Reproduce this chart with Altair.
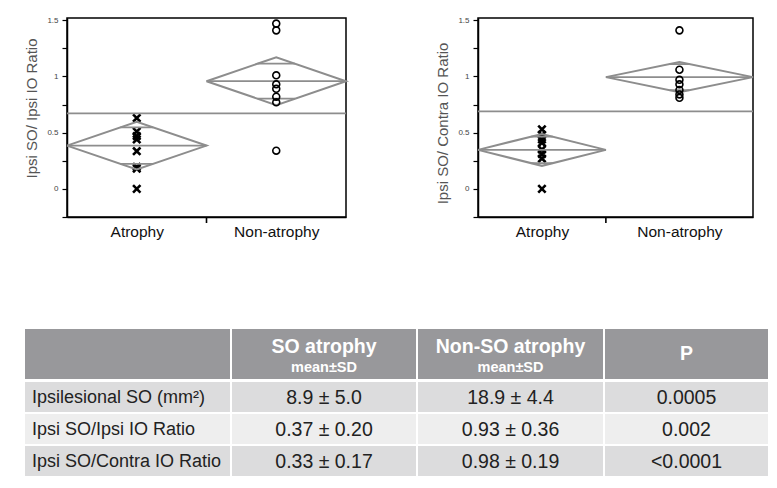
import altair as alt
import pandas as pd

FONT = "Liberation Sans"
CATS = ["Atrophy", "Non-atrophy"]

# ---------------- Left panel data (Ipsi SO / Ipsi IO Ratio) ----------------
L_ATROPHY = [0.63, 0.51, 0.47, 0.44, 0.335, 0.196, 0.18, 0.0]
L_NON = [1.47, 1.41, 1.01, 0.93, 0.89, 0.82, 0.77, 0.34]
L_WEIGHT = [0.5, 0.5]
L_MEAN = [0.385, 0.958]
L_CI = [0.212, 0.213]
L_OVERLAP = [0.162, 0.156]
L_GRAND = 0.671

# ---------------- Right panel data (Ipsi SO / Contra IO Ratio) -------------
R_ATROPHY = [0.53, 0.48, 0.44, 0.41, 0.35, 0.31, 0.27, 0.0]
R_NON = [1.41, 1.06, 0.97, 0.93, 0.88, 0.84, 0.81]
R_WEIGHT = [0.465, 0.535]
R_MEAN = [0.347, 0.994]
R_CI = [0.142, 0.134]
R_OVERLAP = [0.118, 0.116]
R_GRAND = 0.69

Y_TICKS = [-0.25, 0, 0.25, 0.5, 0.75, 1.0, 1.25, 1.5]
Y_DOMAIN = [-0.25, 1.52]

# ---------------- Table data ----------------
HEADER_MAIN = ["", "SO atrophy", "Non-SO atrophy", "P"]
HEADER_SUB = ["", "mean±SD", "mean±SD", ""]
ROW_LABELS = ["Ipsilesional SO (mm²)", "Ipsi SO/Ipsi IO Ratio", "Ipsi SO/Contra IO Ratio"]
SO_ATROPHY = ["8.9 ± 5.0", "0.37 ± 0.20", "0.33 ± 0.17"]
NON_SO_ATROPHY = ["18.9 ± 4.4", "0.93 ± 0.36", "0.98 ± 0.19"]
P_VALUES = ["0.0005", "0.002", "<0.0001"]

DIAMOND_GRAY = "#8d8d8d"


def panel(title, title_y, atrophy, non, weights, means, cis, overlaps, grand, width, height):
    starts = [0.0, weights[0]]
    ends = [weights[0], weights[0] + weights[1]]
    centers = [(s + e) / 2 for s, e in zip(starts, ends)]
    boundary = weights[0]
    total = ends[1]

    pts_a = pd.DataFrame({"x": centers[0], "y": atrophy})
    pts_n = pd.DataFrame({"x": centers[1], "y": non})

    drows = []
    srows = []
    for g in range(2):
        s, e, c, m, ci, ov = starts[g], ends[g], centers[g], means[g], cis[g], overlaps[g]
        verts = [(s, m), (c, m + ci), (e, m), (c, m - ci), (s, m)]
        for k, (vx, vy) in enumerate(verts):
            drows.append({"g": g, "o": k, "x": vx, "y": vy})
        srows.append({"x": s, "x2": e, "y": m})
        f = ov / ci
        half = (e - s) / 2
        for sign in (1, -1):
            srows.append({"x": s + half * f, "x2": e - half * f, "y": m + sign * ov})
    dia = pd.DataFrame(drows)
    segs = pd.DataFrame(srows)
    grand_df = pd.DataFrame({"x": [0.0], "x2": [total], "y": [grand]})
    tick_df = pd.DataFrame({"x": [boundary]})

    xscale = alt.Scale(domain=[0, total], nice=False, zero=False)
    yscale = alt.Scale(domain=Y_DOMAIN, nice=False, zero=False)

    xaxis = alt.Axis(
        values=centers,
        labelExpr=f"datum.value < {boundary} ? '{CATS[0]}' : '{CATS[1]}'",
        tickSize=0, grid=False, domainColor="black", domainWidth=1.5,
        labelFont=FONT, labelFontSize=15.5, labelColor="#111", labelPadding=7,
        title=None,
    )
    yaxis = alt.Axis(
        values=Y_TICKS,
        labelExpr="datum.value % 0.5 == 0 ? '' + datum.value : ''",
        tickSize=5, tickColor="black", tickWidth=1.2, grid=False,
        domainColor="black", domainWidth=1.5,
        labelFont=FONT, labelFontSize=8, labelColor="#444", labelPadding=4,
        title=title, titleFont=FONT, titleFontSize=15, titleColor="#555",
        titleFontWeight="normal", titlePadding=7, titleY=title_y,
    )

    def X(field="x"):
        return alt.X(f"{field}:Q", scale=xscale, axis=xaxis)

    def Y(field="y"):
        return alt.Y(f"{field}:Q", scale=yscale, axis=yaxis)

    crosses = alt.Chart(pts_a).mark_point(
        shape="M-1,-1L1,1M1,-1L-1,1", filled=False, stroke="black",
        strokeWidth=2.6, size=55, opacity=1,
    ).encode(x=X(), y=Y())
    circ = alt.Chart(pts_n).mark_point(
        shape="circle", filled=False, stroke="black", strokeWidth=1.6, size=48, opacity=1,
    ).encode(x=X(), y=Y())
    diamonds = alt.Chart(dia).mark_line(color=DIAMOND_GRAY, strokeWidth=2).encode(
        x=X(), y=Y(), detail="g:N", order="o:Q",
    )
    seg = alt.Chart(segs).mark_rule(color=DIAMOND_GRAY, strokeWidth=1.8).encode(
        x=X(), x2="x2:Q", y=Y(),
    )
    gline = alt.Chart(grand_df).mark_rule(color=DIAMOND_GRAY, strokeWidth=1.8).encode(
        x=X(), x2="x2:Q", y=Y(),
    )
    tick = alt.Chart(tick_df).mark_rule(color="black", strokeWidth=1.6).encode(
        x=X(), y=alt.value(height), y2=alt.value(height + 6),
    )
    return alt.layer(crosses, gline, seg, diamonds, circ, tick).properties(
        width=width, height=height,
        view=alt.ViewBackground(stroke="black", strokeWidth=1.5),
    )


left = panel("Ipsi SO/ Ipsi IO Ratio", 90, L_ATROPHY, L_NON, L_WEIGHT, L_MEAN, L_CI,
             L_OVERLAP, L_GRAND, 279, 199)
right = panel("Ipsi SO/ Contra IO Ratio", 105, R_ATROPHY, R_NON, R_WEIGHT, R_MEAN, R_CI,
              R_OVERLAP, R_GRAND, 275, 199)

# ---------------- Table ----------------
# the table origin is aligned with the left plot's origin; cells start to its left
TW, TH = 701, 147
COL_W = [205, 184, 185, 163]
COL_GAP = 2
X0 = -42
ROW_H = [50, 30, 30, 30]
ROW_GAP = [3, 2, 2]
HEADER_FILL = "#98989b"
ROW_FILLS = ["#dcdcdd", "#eeeeee", "#dcdcdd"]

col_x = []
cx = X0
for w in COL_W:
    col_x.append((cx, cx + w))
    cx += w + COL_GAP
row_y = []
cy = 0
for i, h in enumerate(ROW_H):
    row_y.append((cy, cy + h))
    cy += h + (ROW_GAP[i] if i < len(ROW_GAP) else 0)

cells = []
for r in range(4):
    for c in range(4):
        cells.append({
            "x": col_x[c][0], "x2": col_x[c][1],
            "y": row_y[r][0], "y2": row_y[r][1],
            "fill": HEADER_FILL if r == 0 else ROW_FILLS[r - 1],
        })
cells = pd.DataFrame(cells)

tx = alt.Scale(domain=[0, TW], nice=False, zero=False)
ty = alt.Scale(domain=[0, TH], nice=False, zero=False, reverse=True)

rects = alt.Chart(cells).mark_rect().encode(
    x=alt.X("x:Q", scale=tx, axis=None), x2="x2:Q",
    y=alt.Y("y:Q", scale=ty, axis=None), y2="y2:Q",
    color=alt.Color("fill:N", scale=None),
)

hdr_main = pd.DataFrame({
    "x": [(col_x[c][0] + col_x[c][1]) / 2 for c in (1, 2)],
    "y": [24, 24],
    "t": [HEADER_MAIN[1], HEADER_MAIN[2]],
})
hdr_sub = pd.DataFrame({
    "x": [(col_x[c][0] + col_x[c][1]) / 2 for c in (1, 2)],
    "y": [42.5, 42.5],
    "t": [HEADER_SUB[1], HEADER_SUB[2]],
})
hdr_p = pd.DataFrame({"x": [(col_x[3][0] + col_x[3][1]) / 2], "y": [25], "t": [HEADER_MAIN[3]]})

body_lab = pd.DataFrame({
    "x": [col_x[0][0] + 7] * 3,
    "y": [(row_y[r][0] + row_y[r][1]) / 2 + 1 for r in (1, 2, 3)],
    "t": ROW_LABELS,
})
body_vals = []
for c, vals in zip((1, 2, 3), (SO_ATROPHY, NON_SO_ATROPHY, P_VALUES)):
    for r, v in zip((1, 2, 3), vals):
        body_vals.append({"x": (col_x[c][0] + col_x[c][1]) / 2,
                          "y": (row_y[r][0] + row_y[r][1]) / 2 + 1, "t": v})
body_vals = pd.DataFrame(body_vals)


def txt(df, **kw):
    return alt.Chart(df).mark_text(font=FONT, **kw).encode(
        x=alt.X("x:Q", scale=tx, axis=None),
        y=alt.Y("y:Q", scale=ty, axis=None),
        text="t:N",
    )


table = alt.layer(
    rects,
    txt(hdr_main, fontSize=19.5, fontWeight="bold", color="white", baseline="alphabetic"),
    txt(hdr_sub, fontSize=14.5, fontWeight="bold", color="white", baseline="alphabetic"),
    txt(hdr_p, fontSize=19.5, fontWeight="bold", color="white", baseline="middle"),
    txt(body_lab, fontSize=18, color="#222", align="left", baseline="middle"),
    txt(body_vals, fontSize=19.5, color="#222", align="center", baseline="middle"),
).properties(width=TW, height=TH)

chart = alt.vconcat(
    alt.hconcat(left, right, spacing=84),
    table,
    spacing=88,
).properties(
    padding={"left": 16, "top": 7, "right": 0, "bottom": 0},
).configure(font=FONT).configure_view(strokeWidth=0)

chart.save("out.html", embed_options={"renderer": "svg", "actions": False})
